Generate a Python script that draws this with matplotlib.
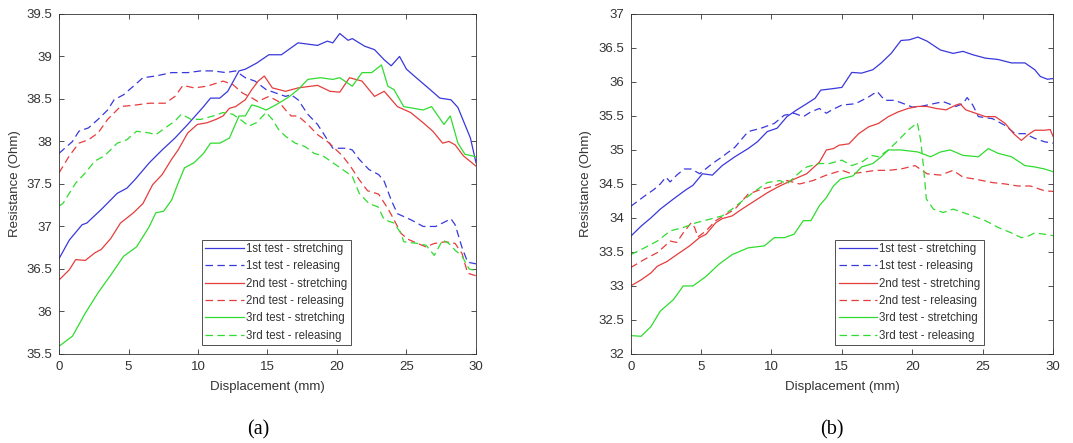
import matplotlib
matplotlib.use('Agg')
import matplotlib.pyplot as plt
from matplotlib.ticker import FormatStrFormatter
import numpy as np

plt.rcParams['font.family'] = ['Liberation Sans', 'DejaVu Sans']

# ---- (a) ----
a_s1_x = [0, 0.74, 1.66, 2.0, 3.04, 4.19, 4.88, 5.46, 6.5, 7.42, 8.34, 9.26, 10.4, 10.9, 11.57, 12.14,
          12.95, 13.4, 14.2, 15.1, 16.0, 17.2, 18.6, 19.3, 19.7, 20.2, 20.8, 21.1, 22.0, 22.7, 23.4,
          23.9, 24.5, 25.0, 25.7, 26.7, 27.4, 28.2, 28.7, 29.2, 29.6, 30]
a_s1_y = [36.62, 36.84, 37.02, 37.04, 37.2, 37.39, 37.45, 37.55, 37.75, 37.9, 38.04, 38.2, 38.41, 38.51,
          38.51, 38.59, 38.83, 38.85, 38.92, 39.02, 39.02, 39.16, 39.13, 39.18, 39.16, 39.27, 39.19,
          39.21, 39.12, 39.08, 38.96, 38.89, 39.0, 38.85, 38.75, 38.61, 38.51, 38.49, 38.4, 38.2,
          38.04, 37.75]

a_r1_x = [0, 0.97, 1.43, 2.12, 2.81, 3.5, 3.96, 4.65, 5.35, 6.04, 6.96, 8.1, 9.26, 10.2, 11.1, 12.0,
          12.7, 13.4, 14.1, 14.9, 15.6, 16.3, 16.7, 17.2, 17.9, 18.6, 19.0, 19.7, 20.7, 21.1, 21.6,
          22.3, 23.0, 23.4, 23.9, 24.35, 25.3, 26.2, 27.1, 28.2, 28.5, 29.0, 29.4, 30]
a_r1_y = [37.86, 38.0, 38.12, 38.16, 38.26, 38.37, 38.49, 38.55, 38.65, 38.75, 38.77, 38.81, 38.81,
          38.83, 38.83, 38.81, 38.83, 38.75, 38.71, 38.61, 38.57, 38.53, 38.55, 38.49, 38.32, 38.2,
          38.1, 37.92, 37.92, 37.9, 37.79, 37.67, 37.61, 37.53, 37.31, 37.15, 37.08, 37.0, 37.0,
          37.09, 37.02, 36.75, 36.58, 36.56]

a_s2_x = [0, 0.74, 1.2, 1.89, 2.58, 3.04, 3.73, 4.42, 5.35, 6.04, 6.73, 7.42, 8.1, 8.57, 9.26, 9.95,
          10.65, 11.3, 11.8, 12.26, 12.7, 13.4, 13.87, 14.33, 14.77, 15.35, 16.3, 17.2, 18.6, 19.5,
          20.2, 20.9, 21.8, 22.7, 23.4, 24.35, 25.3, 26.2, 26.9, 27.6, 28.05, 28.5, 29.1, 30]
a_s2_y = [36.37, 36.49, 36.61, 36.6, 36.69, 36.73, 36.86, 37.04, 37.16, 37.27, 37.49, 37.61, 37.79,
          37.9, 38.1, 38.2, 38.22, 38.26, 38.3, 38.39, 38.41, 38.49, 38.61, 38.71, 38.77, 38.63,
          38.59, 38.63, 38.66, 38.59, 38.58, 38.75, 38.71, 38.53, 38.59, 38.41, 38.34, 38.22, 38.12,
          37.98, 38.0, 37.96, 37.83, 37.71]

a_r2_x = [0, 0.74, 1.43, 2.12, 2.81, 3.5, 4.42, 5.58, 6.5, 7.65, 8.34, 8.92, 9.72, 10.65, 11.8, 12.5,
          13.2, 13.9, 14.3, 15.1, 15.8, 16.3, 16.7, 17.2, 17.9, 18.6, 19.3, 19.7, 20.4, 21.0, 21.6,
          22.2, 23.0, 23.7, 24.1, 24.6, 25.1, 25.8, 26.4, 27.0, 27.8, 28.5, 29.0, 29.4, 30]
a_r2_y = [37.63, 37.83, 37.98, 38.02, 38.1, 38.26, 38.41, 38.43, 38.45, 38.45, 38.53, 38.66, 38.63,
          38.65, 38.71, 38.67, 38.57, 38.51, 38.47, 38.53, 38.47, 38.37, 38.3, 38.3, 38.2, 38.08,
          38.0, 37.94, 37.83, 37.7, 37.55, 37.42, 37.38, 37.2, 37.08, 36.92, 36.85, 36.8, 36.76,
          36.8, 36.82, 36.8, 36.68, 36.45, 36.42]

a_s3_x = [0, 0.97, 1.89, 2.81, 3.73, 4.65, 5.58, 6.5, 6.96, 7.53, 8.1, 8.57, 9.03, 9.72, 10.4, 10.9,
          11.57, 12.26, 12.95, 13.4, 13.87, 14.33, 14.9, 15.6, 16.5, 17.2, 17.9, 18.8, 19.7, 20.2,
          21.1, 21.8, 22.5, 23.2, 23.66, 24.1, 24.8, 25.5, 26.2, 26.8, 27.7, 28.15, 28.7, 29.2, 30]
a_s3_y = [35.59, 35.71, 35.98, 36.22, 36.43, 36.65, 36.76, 37.0, 37.16, 37.18, 37.31, 37.51, 37.69,
          37.75, 37.86, 37.98, 37.98, 38.04, 38.3, 38.3, 38.43, 38.41, 38.37, 38.43, 38.52, 38.61,
          38.73, 38.75, 38.73, 38.75, 38.65, 38.81, 38.81, 38.9, 38.65, 38.61, 38.41, 38.39, 38.37,
          38.41, 38.2, 38.3, 37.98, 37.85, 37.82]

a_r3_x = [0, 0.28, 1.2, 1.89, 2.58, 3.27, 4.19, 4.88, 5.58, 6.5, 6.96, 7.65, 8.34, 8.8, 9.5, 10.2,
          11.1, 11.8, 12.5, 13.2, 13.64, 14.2, 14.9, 15.35, 15.8, 16.3, 17.0, 17.7, 18.35, 19.0, 19.7,
          20.4, 21.1, 21.6, 22.3, 22.95, 23.4, 24.1, 24.6, 24.8, 25.8, 26.4, 27.0, 27.6, 28.05, 28.5,
          29.0, 29.5, 30]
a_r3_y = [37.24, 37.27, 37.51, 37.63, 37.77, 37.83, 37.98, 38.02, 38.12, 38.1, 38.08, 38.16, 38.24,
          38.32, 38.26, 38.26, 38.3, 38.34, 38.32, 38.24, 38.18, 38.22, 38.34, 38.26, 38.14, 38.06,
          37.98, 37.94, 37.86, 37.83, 37.75, 37.67, 37.59, 37.39, 37.27, 37.23, 37.08, 37.04, 36.92,
          36.82, 36.8, 36.78, 36.66, 36.84, 36.8, 36.72, 36.65, 36.5, 36.48]

# ---- (b) ----
b_s1_x = [0, 0.74, 1.43, 2.1, 3.04, 3.96, 4.42, 5.1, 5.8, 6.5, 7.4, 8.34, 9.0, 9.7, 10.4, 11.1, 11.8,
          12.5, 13.1, 13.5, 14.3, 15.0, 15.7, 16.4, 17.2, 17.8, 18.5, 19.2, 19.8, 20.4, 21.05, 22.0,
          22.9, 23.6, 24.3, 25.2, 26.1, 27.05, 28.0, 28.7, 29.1, 29.6, 30]
b_s1_y = [33.73, 33.88, 34.0, 34.13, 34.28, 34.42, 34.48, 34.65, 34.63, 34.77, 34.9, 35.02, 35.12,
          35.27, 35.32, 35.49, 35.59, 35.68, 35.76, 35.88, 35.9, 35.92, 36.14, 36.13, 36.18, 36.28,
          36.42, 36.61, 36.62, 36.66, 36.6, 36.47, 36.42, 36.45, 36.4, 36.35, 36.33, 36.28, 36.28,
          36.18, 36.08, 36.04, 36.05]

b_r1_x = [0, 0.97, 1.66, 2.1, 2.5, 2.8, 3.27, 3.8, 4.3, 4.9, 5.8, 6.5, 7.4, 8.34, 9.26, 10.2, 10.9,
          11.6, 12.26, 12.8, 13.4, 13.9, 14.3, 15.0, 15.97, 16.9, 17.5, 18.05, 18.74, 19.4, 20.0,
          20.6, 21.5, 22.2, 23.1, 23.6, 23.9, 24.3, 24.7, 25.7, 26.6, 27.3, 28.0, 28.7, 29.4, 30]
b_r1_y = [34.17, 34.32, 34.42, 34.5, 34.6, 34.53, 34.63, 34.72, 34.72, 34.65, 34.8, 34.9, 35.04,
          35.27, 35.32, 35.39, 35.51, 35.54, 35.49, 35.56, 35.61, 35.54, 35.59, 35.66, 35.68, 35.78,
          35.86, 35.73, 35.73, 35.68, 35.63, 35.64, 35.68, 35.71, 35.64, 35.68, 35.77, 35.66, 35.49,
          35.46, 35.36, 35.24, 35.24, 35.17, 35.12, 35.1]

b_s2_x = [0, 0.74, 1.43, 1.89, 2.58, 3.27, 4.19, 4.88, 5.35, 6.04, 6.5, 7.2, 7.9, 8.8, 9.7, 10.4,
          11.1, 11.6, 12.5, 13.4, 13.9, 14.4, 14.8, 15.5, 16.2, 16.9, 17.6, 18.3, 19.0, 19.7, 20.4,
          21.05, 21.7, 22.4, 23.1, 23.4, 23.8, 24.5, 25.2, 25.9, 26.6, 27.2, 27.75, 28.2, 28.7, 29.4,
          29.8, 30]
b_s2_y = [33.0, 33.09, 33.19, 33.29, 33.36, 33.46, 33.59, 33.71, 33.76, 33.93, 33.99, 34.03, 34.13,
          34.25, 34.37, 34.45, 34.52, 34.57, 34.65, 34.82, 35.0, 35.02, 35.07, 35.09, 35.24, 35.34,
          35.39, 35.49, 35.56, 35.61, 35.64, 35.64, 35.61, 35.59, 35.66, 35.68, 35.59, 35.54, 35.49,
          35.49, 35.39, 35.24, 35.14, 35.22, 35.29, 35.29, 35.3, 35.2]

b_r2_x = [0, 0.97, 1.89, 2.81, 3.27, 3.73, 4.3, 4.54, 4.77, 5.35, 6.04, 7.4, 8.34, 9.26, 10.2, 11.1,
          12.0, 12.95, 13.9, 15.0, 15.7, 16.4, 17.4, 18.3, 19.2, 20.2, 21.05, 22.0, 22.9, 23.6, 24.5,
          25.7, 26.6, 27.5, 28.4, 29.1, 29.4, 30]
b_r2_y = [33.27, 33.39, 33.49, 33.66, 33.64, 33.78, 33.93, 33.86, 33.72, 33.81, 33.96, 34.13, 34.35,
          34.42, 34.47, 34.55, 34.5, 34.55, 34.63, 34.7, 34.65, 34.67, 34.7, 34.7, 34.72, 34.77,
          34.65, 34.63, 34.7, 34.6, 34.57, 34.52, 34.5, 34.47, 34.47, 34.42, 34.4, 34.39]

b_s3_x = [0, 0.74, 1.43, 2.1, 3.04, 3.73, 4.42, 5.35, 6.27, 7.2, 8.34, 9.5, 10.2, 10.9, 11.6, 12.26,
          12.8, 13.4, 13.9, 14.4, 14.9, 15.8, 16.4, 17.2, 17.8, 18.3, 19.2, 20.4, 21.3, 22.0, 22.7,
          23.6, 24.7, 25.4, 26.1, 27.05, 28.0, 28.7, 29.4, 30]
b_s3_y = [32.27, 32.26, 32.4, 32.63, 32.8, 33.0, 33.0, 33.14, 33.32, 33.46, 33.56, 33.59, 33.71,
          33.71, 33.76, 33.96, 33.96, 34.18, 34.3, 34.47, 34.57, 34.62, 34.75, 34.8, 34.9, 35.0, 35.0,
          34.97, 34.9, 34.97, 35.0, 34.92, 34.9, 35.02, 34.95, 34.9, 34.77, 34.75, 34.72, 34.68]

b_r3_x = [0, 0.97, 1.89, 2.81, 3.73, 4.65, 5.58, 6.5, 7.2, 8.1, 9.0, 9.7, 10.6, 11.1, 12.0, 12.5,
          13.4, 14.1, 15.0, 15.7, 16.4, 17.1, 17.6, 18.3, 19.0, 19.7, 20.36, 20.6, 20.8, 21.0, 21.5,
          22.2, 22.9, 23.6, 24.3, 25.2, 26.1, 27.05, 27.75, 28.2, 28.7, 29.4, 30]
b_r3_y = [33.46, 33.56, 33.66, 33.81, 33.86, 33.93, 33.98, 34.03, 34.13, 34.28, 34.42, 34.52, 34.55,
          34.5, 34.67, 34.75, 34.8, 34.8, 34.85, 34.77, 34.82, 34.92, 34.9, 35.0, 35.14, 35.29, 35.4,
          35.14, 34.75, 34.28, 34.13, 34.08, 34.13, 34.08, 34.03, 33.96, 33.86, 33.78, 33.71, 33.73,
          33.78, 33.76, 33.74]

labels = ['1st test - stretching', '1st test - releasing',
          '2nd test - stretching', '2nd test - releasing',
          '3rd test - stretching', '3rd test - releasing']
colors = ['#3838dc', '#3838dc', '#e63c3c', '#e63c3c', '#2fdc2f', '#2fdc2f']
dash = (0, (6, 3.5))

fig = plt.figure(figsize=(10.73, 4.43), dpi=100)
ax_a = fig.add_axes([0.055, 0.201, 0.3886, 0.7675])
ax_b = fig.add_axes([0.5878, 0.201, 0.3936, 0.7675])

panels = [
    (ax_a, [(a_s1_x, a_s1_y), (a_r1_x, a_r1_y), (a_s2_x, a_s2_y), (a_r2_x, a_r2_y),
            (a_s3_x, a_s3_y), (a_r3_x, a_r3_y)], (35.5, 39.5), 0.343),
    (ax_b, [(b_s1_x, b_s1_y), (b_r1_x, b_r1_y), (b_s2_x, b_s2_y), (b_r2_x, b_r2_y),
            (b_s3_x, b_s3_y), (b_r3_x, b_r3_y)], (32, 37), 0.484),
]

for ax, series, ylim, leg_x in panels:
    for i, (xs, ys) in enumerate(series):
        ls = '-' if i % 2 == 0 else dash
        ax.plot(xs, ys, color=colors[i], linestyle=ls, linewidth=0.9, label=labels[i])
    ax.set_xlim(0, 30)
    ax.set_ylim(*ylim)
    ax.set_xticks(np.arange(0, 31, 5))
    ax.set_yticks(np.arange(ylim[0], ylim[1] + 0.01, 0.5))
    ax.yaxis.set_major_formatter(FormatStrFormatter('%g'))
    ax.tick_params(direction='in', top=True, right=True, length=3.5, width=0.6,
                   labelsize=9.5, colors='#333333', pad=5)
    for sp in ax.spines.values():
        sp.set_color('#333333')
        sp.set_linewidth(0.6)
    ax.set_xlabel('Displacement (mm)', fontsize=9.5, color='#333333', labelpad=6)
    ax.set_ylabel('Resistance (Ohm)', fontsize=9.5, color='#333333', labelpad=4)
    leg = ax.legend(loc='lower left', bbox_to_anchor=(leg_x, 0.026), borderaxespad=0,
                    fontsize=8.3, labelspacing=0.46, handlelength=3.3, handletextpad=0.2,
                    borderpad=0.3, fancybox=False, framealpha=1, edgecolor='#333333')
    leg.get_frame().set_linewidth(0.6)
    for t in leg.get_texts():
        t.set_color('#333333')

fig.text(0.2405, 0.029, '(a)', ha='center', va='center', fontsize=14.5,
         family=['Liberation Serif', 'DejaVu Serif'])
fig.text(0.775, 0.029, '(b)', ha='center', va='center', fontsize=14.5,
         family=['Liberation Serif', 'DejaVu Serif'])

fig.savefig('out.png', dpi=100)
